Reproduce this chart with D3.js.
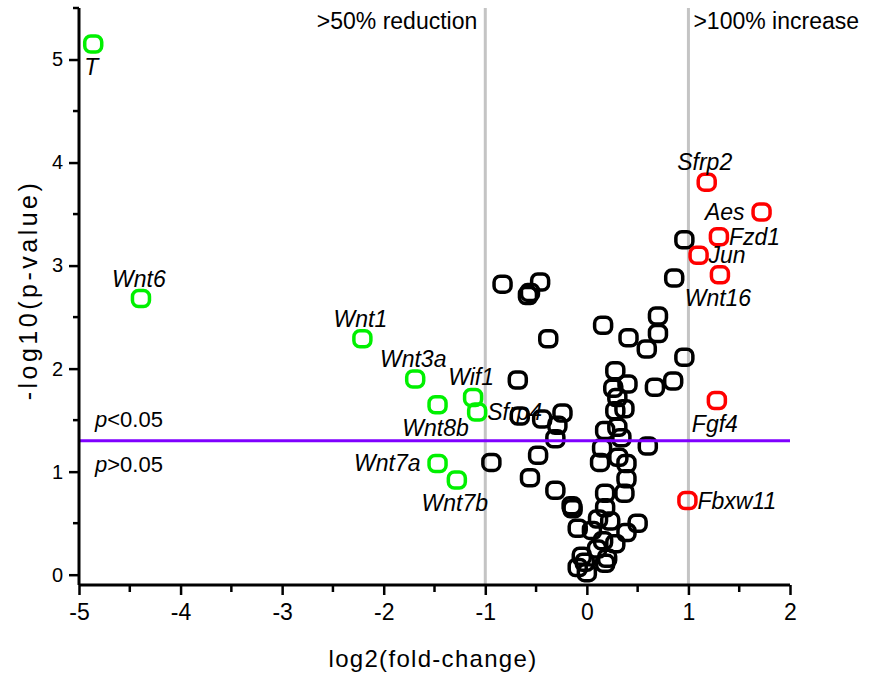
<!DOCTYPE html>
<html lang="en">
<head>
<meta charset="UTF-8">
<title>Volcano plot</title>
<script src="https://d3js.org/d3.v7.min.js"></script>
<style>
    body { margin: 0; background: white; }
    text { font-family: "Liberation Sans", Arial, sans-serif; }
    .gene { font-style: italic; font-size: 23px; }
</style>
</head>
<body>
<div id="chart"></div>
<script>
    // labelled genes
    var genes    = ["T", "Wnt6", "Wnt1", "Wnt3a", "Wnt8b", "Wif1", "Sfrp4", "Wnt7a", "Wnt7b",
                    "Sfrp2", "Aes", "Fzd1", "Jun", "Wnt16", "Fgf4", "Fbxw11"];
    var geneFC   = [-4.86, -4.39, -2.21, -1.69, -1.47, -1.12, -1.08, -1.47, -1.28,
                    1.18, 1.72, 1.30, 1.10, 1.31, 1.28, 0.99];
    var geneP    = [5.15, 2.68, 2.29, 1.90, 1.65, 1.72, 1.58, 1.08, 0.92,
                    3.81, 3.52, 3.28, 3.10, 2.91, 1.69, 0.72];
    var geneDir  = ["down", "down", "down", "down", "down", "down", "down", "down", "down",
                    "up", "up", "up", "up", "up", "up", "up"];
    var labelSide = ["b", "t", "t", "t", "b", "t", "r", "l", "b",
                     "t", "l", "r", "r", "b", "b", "r"];

    // other genes (unlabelled)
    var otherFC = [-0.83, -0.46, -0.58, -0.56, 0.16, -0.38, 0.41, 0.70, 0.70, 0.59, 0.96, 0.86,
                   0.96, -0.68, 0.28, 0.40, 0.26, 0.67, 0.85, 0.30, 0.37, 0.28, -0.66, -0.44,
                   -0.24, -0.29, -0.31, 0.18, 0.30, 0.34, 0.60, 0.15, -0.94, -0.48, 0.13, 0.31,
                   0.39, -0.56, 0.39, -0.31, 0.37, 0.18, -0.15, 0.18, -0.14, 0.11, 0.23, 0.50,
                   -0.09, 0.05, 0.39, 0.16, 0.28, 0.10, -0.05, 0.20, 0.18, -0.02, 0.00, -0.09];
    var otherP  = [2.82, 2.84, 2.71, 2.74, 2.42, 2.29, 2.30, 2.51, 2.34, 2.19, 2.11, 2.88,
                   3.25, 1.89, 1.98, 1.85, 1.81, 1.82, 1.88, 1.72, 1.61, 1.59, 1.54, 1.51,
                   1.57, 1.45, 1.32, 1.40, 1.43, 1.33, 1.25, 1.23, 1.09, 1.16, 1.09, 1.14,
                   1.08, 0.94, 0.93, 0.82, 0.79, 0.79, 0.67, 0.65, 0.64, 0.54, 0.52, 0.50,
                   0.45, 0.43, 0.41, 0.33, 0.30, 0.25, 0.18, 0.16, 0.11, 0.12, 0.02, 0.07];

    var xTicks = [-5, -4, -3, -2, -1, 0, 1, 2];
    var yTicks = [0, 1, 2, 3, 4, 5];
    var pCut = -Math.log10(0.05);

    var w = 871, h = 679;
    var padL = 79, padR = 790, padT = 8, padB = 585;

    var x = d3.scaleLinear().domain([-5, 2]).range([padL, padR]);
    var y = d3.scaleLinear().domain([-0.1, 5.5]).range([padB, padT]);

    var svg = d3.select("#chart").append("svg")
                .attr("width", w)
                .attr("height", h);

    // threshold lines
    svg.selectAll(".vline")
       .data([-1, 1])
       .enter()
       .append("line")
       .attr("x1", function(d) { return x(d); })
       .attr("x2", function(d) { return x(d); })
       .attr("y1", padT)
       .attr("y2", padB)
       .attr("stroke", "#c4c4c4")
       .attr("stroke-width", 3);

    svg.append("text")
       .attr("x", x(-1) - 8).attr("y", 29)
       .attr("text-anchor", "end")
       .style("font-size", "23px")
       .text(">50% reduction");
    svg.append("text")
       .attr("x", x(1) + 5).attr("y", 29)
       .style("font-size", "23px")
       .text(">100% increase");

    // points
    var marker = function(sel, color) {
        sel.attr("x", function(d) { return x(d[0]) - 8.5; })
           .attr("y", function(d) { return y(d[1]) - 8; })
           .attr("width", 17)
           .attr("height", 16)
           .attr("rx", 6)
           .attr("fill", "none")
           .attr("stroke", color)
           .attr("stroke-width", 3.5);
    };

    svg.selectAll(".other")
       .data(otherFC.map(function(d, i) { return [d, otherP[i]]; }))
       .enter()
       .append("rect")
       .attr("class", "other")
       .call(marker, "black");

    var hits = genes.map(function(g, i) {
        return [geneFC[i], geneP[i], g, geneDir[i], labelSide[i]];
    });

    svg.selectAll(".hit")
       .data(hits)
       .enter()
       .append("rect")
       .attr("class", "hit")
       .call(marker, "black")
       .attr("stroke", function(d) { return d[3] == "down" ? "#00f000" : "#ff0000"; });

    svg.selectAll(".gene")
       .data(hits)
       .enter()
       .append("text")
       .attr("class", "gene")
       .attr("x", function(d) {
           if (d[4] == "l") return x(d[0]) - 17;
           if (d[4] == "r") return x(d[0]) + 10;
           return x(d[0]) - 2;
       })
       .attr("y", function(d) {
           if (d[4] == "t") return y(d[1]) - 12;
           if (d[4] == "b") return y(d[1]) + 31;
           return y(d[1]) + 8;
       })
       .attr("text-anchor", function(d) {
           if (d[4] == "l") return "end";
           if (d[4] == "r") return "start";
           return "middle";
       })
       .text(function(d) { return d[2]; });

    // p = 0.05 line
    svg.append("line")
       .attr("x1", padL).attr("x2", padR)
       .attr("y1", y(pCut)).attr("y2", y(pCut))
       .attr("stroke", "#7f00ff")
       .attr("stroke-width", 3);

    var pLab = [["<0.05", y(pCut) - 14], [">0.05", y(pCut) + 31]];
    pLab.forEach(function(p) {
        var t = svg.append("text")
                   .attr("x", 95).attr("y", p[1])
                   .style("font-size", "22px");
        t.append("tspan").style("font-style", "italic").text("p");
        t.append("tspan").text(p[0]);
    });

    // axes
    var xAxis = d3.axisBottom(x).tickValues(xTicks).tickSize(10).tickPadding(9)
                  .tickFormat(function(d) { return String(d); });
    var yAxis = d3.axisLeft(y).tickValues(yTicks).tickSize(10).tickPadding(6)
                  .tickFormat(function(d) { return String(d); });

    var gx = svg.append("g")
                .attr("transform", "translate(0," + padB + ")")
                .call(xAxis);
    gx.selectAll(".tick text").style("font-size", "23px");
    gx.append("g").selectAll("line")
      .data(d3.range(-4.5, 2, 1))
      .enter().append("line")
      .attr("x1", function(d) { return x(d); })
      .attr("x2", function(d) { return x(d); })
      .attr("y2", 7)
      .attr("stroke", "black")
      .attr("stroke-width", 2.5);

    var gy = svg.append("g")
                .attr("transform", "translate(" + padL + ",0)")
                .call(yAxis);
    gy.selectAll(".tick text").style("font-size", "20px");
    gy.append("g").selectAll("line")
      .data(d3.range(0.5, 6, 1))
      .enter().append("line")
      .attr("y1", function(d) { return y(d); })
      .attr("y2", function(d) { return y(d); })
      .attr("x2", -6)
      .attr("stroke", "black")
      .attr("stroke-width", 2.5);

    svg.selectAll(".domain").attr("stroke-width", 3);
    svg.selectAll(".tick line").attr("stroke-width", 2.5);
    svg.selectAll(".tick text").attr("fill", "black");
    gx.select(".domain").attr("d", "M" + padL + ",0H" + padR);
    gy.select(".domain").attr("d", "M0," + padB + "V" + padT);

    // axis titles
    svg.append("text")
       .attr("x", 433).attr("y", 667)
       .attr("text-anchor", "middle")
       .style("font-size", "24px")
       .style("letter-spacing", "1.3px")
       .text("log2(fold-change)");
    svg.append("text")
       .attr("transform", "translate(37,290) rotate(-90)")
       .attr("text-anchor", "middle")
       .style("font-size", "25px")
       .style("letter-spacing", "3.5px")
       .text("-log10(p-value)");
</script>
</body>
</html>
